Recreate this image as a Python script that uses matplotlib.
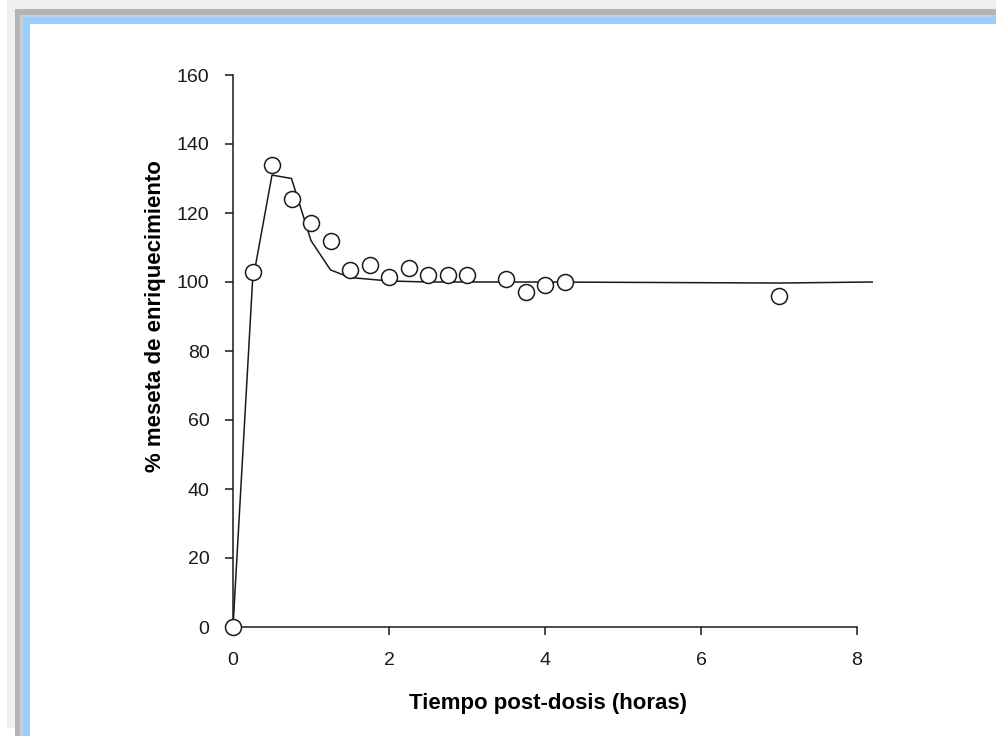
import matplotlib.pyplot as plt
from matplotlib.patches import Rectangle

# measured enrichment (% of plateau) vs. time after dose
time_obs = [0, 0.25, 0.5, 0.75, 1.0, 1.25, 1.5, 1.75, 2.0, 2.25, 2.5, 2.75, 3.0,
            3.5, 3.75, 4.0, 4.25, 7.0]
pct_obs = [0, 103, 134, 124, 117, 112, 103.5, 105, 101.5, 104, 102, 102, 102,
           101, 97, 99, 100, 96]

# fitted model curve
time_fit = [0, 0.25, 0.5, 0.75, 1.0, 1.25, 1.5, 2.0, 2.5, 4.0, 6.0, 7.0, 8.2]
pct_fit = [0, 100, 131, 130, 112, 103.5, 101.3, 100.3, 100, 100, 99.8, 99.7, 100]

plt.rcParams['font.family'] = ['Liberation Sans', 'DejaVu Sans']

W, H = 996, 736
fig = plt.figure(figsize=(W / 100, H / 100), dpi=100)


def frame(x0, y0, color):
    # rectangle from pixel (x0, y0) measured from the top-left down to the bottom-right corner
    fig.add_artist(Rectangle((x0 / W, 0), 1 - x0 / W, 1 - y0 / H,
                             transform=fig.transFigure, facecolor=color,
                             edgecolor='none', zorder=-10))


fig.add_artist(Rectangle((7 / W, 8 / H), 1, 1, transform=fig.transFigure,
                         facecolor='#f0f0f0', edgecolor='none', zorder=-11))
frame(15, 9, '#b4b4b4')
frame(20, 15, '#cdcdcd')
frame(23, 17, '#99ccff')
frame(30, 24, 'white')

ax = fig.add_axes([233 / W, (H - 627) / H, 8.2 * 78 / W, 552 / H])
ax.patch.set_alpha(0)

ax.plot(time_fit, pct_fit, color='#1a1a1a', lw=1.1, zorder=2)
ax.plot(time_obs, pct_obs, 'o', ms=11.5, mfc='white', mec='#1a1a1a', mew=1.1,
        clip_on=False, zorder=3)

ax.set_xlim(0, 8.2)
ax.set_ylim(0, 160)
ax.set_xticks([0, 2, 4, 6, 8])
ax.set_yticks(range(0, 161, 20))
for s in ['top', 'right']:
    ax.spines[s].set_visible(False)
ax.spines['bottom'].set_bounds(0, 8)
for s in ['left', 'bottom']:
    ax.spines[s].set_linewidth(1.1)
    ax.spines[s].set_color('#1a1a1a')
ax.tick_params(direction='out', length=6, width=1.1, labelsize=14,
               colors='#1a1a1a')
ax.tick_params(axis='x', pad=12)
ax.tick_params(axis='y', pad=11)

ax.set_xlabel('Tiempo post-dosis (horas)', fontsize=16, fontweight='bold',
              labelpad=17)
ax.set_ylabel('% meseta de enriquecimiento', fontsize=16, fontweight='bold',
              labelpad=8)
# centre the titles on the drawn spines rather than the full axes box
ax.xaxis.label.set_x(0.4925)
ax.yaxis.label.set_y(0.563)

fig.savefig('out.png', dpi=100)
